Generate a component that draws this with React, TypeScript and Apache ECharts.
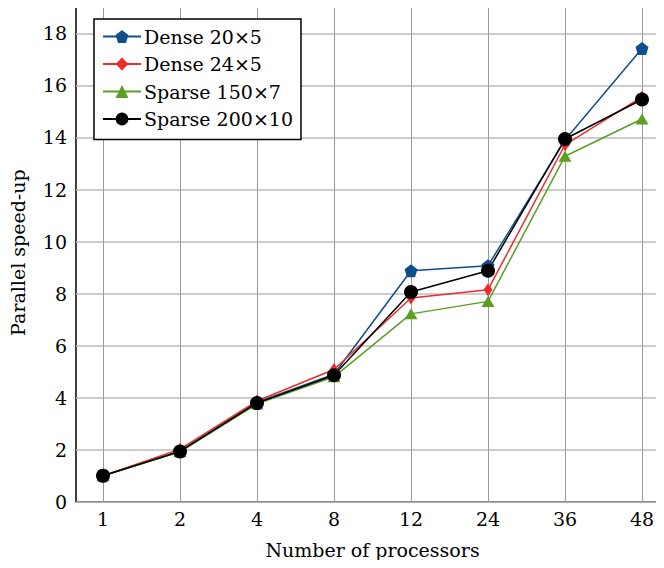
import React, { useEffect, useRef } from "react";
import * as echarts from "echarts";

const categories = ["1", "2", "4", "8", "12", "24", "36", "48"];
const dense20x5 = [1.0, 1.95, 3.82, 4.9, 8.88, 9.07, 13.9, 17.42];
const dense24x5 = [1.0, 2.02, 3.87, 5.08, 7.83, 8.15, 13.72, 15.56];
const sparse150x7 = [1.0, 1.92, 3.76, 4.8, 7.22, 7.7, 13.28, 14.71];
const sparse200x10 = [1.0, 1.93, 3.79, 4.86, 8.06, 8.88, 13.94, 15.46];
const yTicks = [0, 2, 4, 6, 8, 10, 12, 14, 16, 18];

const FONT = "'DejaVu Serif', 'Liberation Serif', serif";
const FS = 19;
const YMAX = 19.15;

const pentagon =
  "path://M0,-1 L0.951,-0.309 L0.588,0.809 L-0.588,0.809 L-0.951,-0.309 Z";

export default function App() {
  const ref = useRef<HTMLDivElement>(null);
  useEffect(() => {
    if (!ref.current) return;
    const chart = echarts.init(ref.current, null, { renderer: "svg" });
    const mk = (
      name: string,
      data: number[],
      color: string,
      symbol: string,
      size: number | number[]
    ) => ({
      name,
      type: "line",
      xAxisIndex: 1,
      yAxisIndex: 1,
      data,
      symbol,
      symbolSize: size,
      showAllSymbol: true,
      lineStyle: { color, width: 1.5 },
      itemStyle: { color, borderWidth: 0 },
      clip: false,
    });
    chart.setOption({
      animation: false,
      textStyle: { fontFamily: FONT },
      grid: [
        {
          left: 76,
          top: 3.5,
          right: -5,
          bottom: 66.3,
          show: true,
          borderColor: "#000",
          borderWidth: 1.5,
          backgroundColor: "transparent",
        },
        { left: 103, top: 3.5, right: 22, bottom: 66.3 },
      ],
      xAxis: [
        {
          gridIndex: 0,
          type: "value",
          min: 0,
          max: 1,
          show: false,
        },
        {
          gridIndex: 1,
          type: "category",
          data: categories,
          boundaryGap: false,
          axisLine: { show: false },
          axisTick: { show: false },
          axisLabel: {
            color: "#000",
            fontFamily: FONT,
            fontSize: FS,
            margin: 8,
            interval: 0,
          },
          splitLine: {
            show: true,
            interval: 0,
            lineStyle: { color: "#9a9a9a", width: 1 },
          },
          name: "Number of processors",
          nameLocation: "middle",
          nameGap: 39,
          nameTextStyle: { color: "#000", fontFamily: FONT, fontSize: FS },
        },
      ],
      yAxis: [
        {
          gridIndex: 0,
          type: "value",
          min: 0,
          max: YMAX,
          interval: 2,
          axisLine: { show: false },
          axisTick: { show: false },
          axisLabel: {
            color: "#000",
            fontFamily: FONT,
            fontSize: FS,
            margin: 9,
            showMaxLabel: false,
            formatter: (v: number) => (yTicks.includes(v) ? String(v) : ""),
          },
          splitLine: { show: true, lineStyle: { color: "#bdbdbd", width: 1.5 } },
          name: "Parallel speed-up",
          nameLocation: "middle",
          nameGap: 49,
          nameTextStyle: { color: "#000", fontFamily: FONT, fontSize: FS },
        },
        {
          gridIndex: 1,
          type: "value",
          min: 0,
          max: YMAX,
          show: false,
          splitLine: { show: false },
        },
      ],
      legend: {
        orient: "vertical",
        left: 94,
        top: 19,
        backgroundColor: "#fff",
        borderColor: "#000",
        borderWidth: 1.5,
        borderRadius: 0,
        padding: [8, 8, 11, 8],
        itemWidth: 38,
        itemHeight: 16,
        itemGap: 8.5,
        textStyle: { color: "#000", fontFamily: FONT, fontSize: FS, padding: [0, 0, 0, -2] },
        data: ["Dense 20×5", "Dense 24×5", "Sparse 150×7", "Sparse 200×10"],
      },
      series: [
        mk("Dense 20×5", dense20x5, "#0d4f8b", pentagon, 13),
        mk("Dense 24×5", dense24x5, "#ee2b2b", "diamond", [9, 13]),
        mk("Sparse 150×7", sparse150x7, "#5b9e22", "triangle", [13, 11]),
        mk("Sparse 200×10", sparse200x10, "#000000", "circle", 14),
      ],
    });
    return () => chart.dispose();
  }, []);
  return <div ref={ref} style={{ width: 664, height: 568, margin: -8 }} />;
}
